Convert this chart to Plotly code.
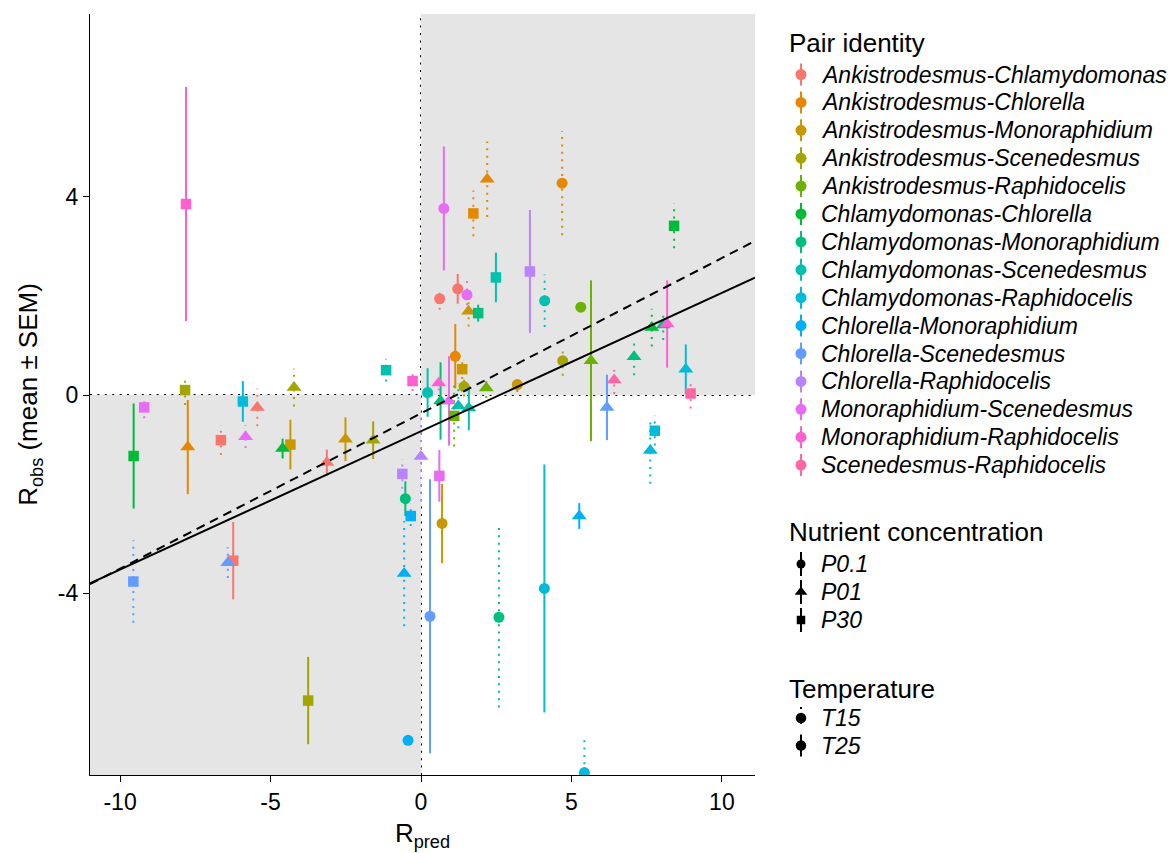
import plotly.graph_objects as go

# ---------------- data ----------------
pairs = [
    "Ankistrodesmus-Chlamydomonas", "Ankistrodesmus-Chlorella", "Ankistrodesmus-Monoraphidium",
    "Ankistrodesmus-Scenedesmus", "Ankistrodesmus-Raphidocelis", "Chlamydomonas-Chlorella",
    "Chlamydomonas-Monoraphidium", "Chlamydomonas-Scenedesmus", "Chlamydomonas-Raphidocelis",
    "Chlorella-Monoraphidium", "Chlorella-Scenedesmus", "Chlorella-Raphidocelis",
    "Monoraphidium-Scenedesmus", "Monoraphidium-Raphidocelis", "Scenedesmus-Raphidocelis",
]
pair_colors = [
    "#F8766D", "#E58700", "#C99800", "#A3A500", "#6BB100", "#00BA38", "#00BF7D", "#00C0AF",
    "#00BCD8", "#00B0F6", "#619CFF", "#B983FF", "#E76BF3", "#FD61D1", "#FF67A4",
]
nutrient_levels = ["P0.1", "P01", "P30"]
temp_levels = ["T15", "T25"]

obs_pair = [0, 0, 0, 0, 0, 0,
            1, 1, 1, 1, 1,
            2, 2, 2, 2, 2, 2,
            3, 3, 3, 3, 3, 3,
            4, 4, 4, 4,
            5, 5, 5, 5,
            6, 6, 6, 6, 6, 6,
            7, 7, 7, 7, 7, 7,
            8, 8, 8, 8, 8, 8,
            9, 9, 9, 9,
            10, 10, 10, 10,
            11, 11, 11,
            12, 12, 12, 12, 12, 12,
            13, 13, 13, 13,
            14, 14]
obs_nutrient = ["P0.1", "P0.1", "P30", "P30", "P01", "P01",
                "P01", "P0.1", "P30", "P0.1", "P01",
                "P01", "P0.1", "P30", "P0.1", "P30", "P01",
                "P0.1", "P0.1", "P30", "P01", "P01", "P30",
                "P0.1", "P01", "P01", "P30",
                "P30", "P30", "P01", "P01",
                "P30", "P01", "P01", "P01", "P0.1", "P0.1",
                "P30", "P0.1", "P30", "P0.1", "P01", "P01",
                "P01", "P30", "P01", "P30", "P0.1", "P0.1",
                "P30", "P01", "P0.1", "P01",
                "P01", "P0.1", "P30", "P01",
                "P30", "P01", "P30",
                "P0.1", "P0.1", "P01", "P30", "P30", "P01",
                "P30", "P01", "P30", "P01",
                "P30", "P01"]
obs_temp = ["T15", "T25", "T25", "T15", "T15", "T25",
            "T15", "T15", "T15", "T25", "T25",
            "T15", "T15", "T15", "T25", "T25", "T25",
            "T15", "T15", "T15", "T15", "T25", "T25",
            "T25", "T25", "T15", "T15",
            "T15", "T25", "T25", "T15",
            "T25", "T15", "T15", "T25", "T25", "T15",
            "T25", "T15", "T15", "T25", "T15", "T25",
            "T25", "T15", "T15", "T25", "T25", "T15",
            "T15", "T25", "T25", "T15",
            "T25", "T25", "T15", "T15",
            "T25", "T15", "T15",
            "T25", "T15", "T25", "T25", "T15", "T15",
            "T25", "T25", "T15", "T15",
            "T15", "T15"]
r_pred = [0.62, 1.22, -6.24, -6.65, -5.44, -3.13,
          2.20, 4.69, 1.74, 1.14, -7.75,
          1.58, 3.20, 1.37, 0.70, -4.34, -2.51,
          4.71, 1.43, -7.84, -4.22, -1.59, -3.75,
          5.31, 5.65, 2.17, 1.10,
          8.41, -9.55, -4.60, 7.67,
          1.90, 7.08, 8.05, 0.65, -0.52, 2.59,
          2.49, 4.11, -1.16, 0.22, 1.24, 1.59,
          8.80, 7.77, 7.62, -5.92, 4.10, 5.43,
          -0.34, 5.26, -0.43, -0.56,
          6.18, 0.30, -9.56, -6.42,
          3.62, 0.00, -0.62,
          0.76, 1.53, 0.93, 0.61, -9.20, -5.83,
          -7.81, 8.18, -0.28, 0.59,
          8.96, 6.42]
r_obs = [1.94, 2.14, -3.34, -0.91, -0.25, -1.36,
         4.35, 4.27, 3.66, 0.78, -1.05,
         1.69, 0.21, 0.52, -2.59, -1.00, -0.89,
         0.69, 0.17, 0.10, 0.15, -0.91, -6.16,
         1.77, 0.69, 0.14, -0.42,
         3.41, -1.23, -1.08, 1.36,
         1.65, 0.77, 1.41, -0.12, -2.09, -4.48,
         2.37, 1.90, 0.50, 0.05, -0.22, -0.26,
         0.52, -0.72, -1.12, -0.13, -3.90, -7.61,
         -2.44, -2.44, -6.96, -3.60,
         -0.25, -4.46, -3.76, -3.38,
         2.49, -1.24, -1.59,
         3.76, 2.02, -0.12, -1.63, -0.25, -0.84,
         3.85, 1.43, 0.28, 0.24,
         0.03, 0.30]
r_sem = [0.22, 0.30, 0.78, 0.30, 0.38, 0.26,
         0.76, 1.05, 0.46, 0.65, 0.95,
         0.31, 0.15, 0.20, 0.80, 0.50, 0.44,
         0.30, 0.20, 0.30, 0.38, 0.38, 0.88,
         0.05, 1.62, 0.20, 0.62,
         0.45, 1.06, 0.20, 0.38,
         0.17, 0.37, 0.30, 0.78, 0.35, 1.82,
         0.50, 0.53, 0.23, 0.49, 0.45, 0.45,
         0.50, 0.30, 0.67, 0.41, 2.50, 0.73,
         0.20, 0.26, 0.05, 1.06,
         0.66, 2.76, 0.83, 0.31,
         1.24, 0.90, 0.30,
         1.25, 0.36, 0.90, 0.52, 0.22, 0.23,
         2.36, 0.88, 0.20, 0.15,
         0.30, 0.28]

fit_obs_intercept, fit_obs_slope = -0.73, 0.279   # solid line
fit_ref_intercept, fit_ref_slope = -0.37, 0.313   # dashed line

x_tickvals = [-10, -5, 0, 5, 10]
y_tickvals = [-4, 0, 4]
x_range = [-11.0, 11.1]
y_range = [-7.66, 7.68]

# ---------------- styles ----------------
FONT = "Liberation Sans, Arial, sans-serif"
symbol_of = {"P0.1": "circle", "P01": "triangle-up", "P30": "square"}
size_of = {"P0.1": 11, "P01": 13, "P30": 10.5}
dash_of = {"T15": "2px,5.4px", "T25": "solid"}
n = len(r_pred)

fig = go.Figure()

# quadrant shading and reference lines
shapes = [
    dict(type="rect", xref="x", yref="y", x0=0, x1=100, y0=0, y1=100,
         fillcolor="#E5E5E5", line_width=0, layer="below"),
    dict(type="rect", xref="x", yref="y", x0=-100, x1=0, y0=-100, y1=0,
         fillcolor="#E5E5E5", line_width=0, layer="below"),
    dict(type="line", xref="x", yref="y domain", x0=0, x1=0, y0=0, y1=1,
         line=dict(color="black", width=2, dash="2px,5.4px"), layer="below"),
    dict(type="line", xref="x domain", yref="y", x0=0, x1=1, y0=0, y1=0,
         line=dict(color="black", width=2, dash="2px,5.4px"), layer="below"),
]

# error bars (mean ± SEM)
for pi, col in enumerate(pair_colors):
    for t in temp_levels:
        xs, ys = [], []
        for k in range(n):
            if obs_pair[k] == pi and obs_temp[k] == t:
                xs += [r_pred[k], r_pred[k], None]
                ys += [r_obs[k] - r_sem[k], r_obs[k] + r_sem[k], None]
        if xs:
            fig.add_trace(go.Scatter(x=xs, y=ys, mode="lines", xaxis="x", yaxis="y",
                                     line=dict(color=col, width=2, dash=dash_of[t]),
                                     hoverinfo="skip", showlegend=False))

# points
for pi, col in enumerate(pair_colors):
    idx = [k for k in range(n) if obs_pair[k] == pi]
    fig.add_trace(go.Scatter(
        x=[r_pred[k] for k in idx], y=[r_obs[k] for k in idx], mode="markers",
        xaxis="x", yaxis="y", name=pairs[pi],
        marker=dict(color=col, opacity=1, symbol=[symbol_of[obs_nutrient[k]] for k in idx],
                    size=[size_of[obs_nutrient[k]] for k in idx], line=dict(width=0)),
        showlegend=False))

# fitted lines
fig.add_trace(go.Scatter(x=x_range, y=[fit_obs_intercept + fit_obs_slope * v for v in x_range],
                         mode="lines", line=dict(color="black", width=2), showlegend=False,
                         hoverinfo="skip"))
fig.add_trace(go.Scatter(x=x_range, y=[fit_ref_intercept + fit_ref_slope * v for v in x_range],
                         mode="lines", line=dict(color="black", width=2, dash="9px,6px"),
                         showlegend=False, hoverinfo="skip"))

# ---------------- hand-drawn legend (pixel coordinates on x2/y2) ----------------
annotations = []
KEY_X, TEXT_X, TITLE_X = 801, 819, 787
pair_top, pair_pitch = 74.5, 27.9


def leg_text(x, y, txt, size, italic=False):
    annotations.append(dict(xref="x2", yref="y2", x=x, y=y, xanchor="left", yanchor="middle",
                            text=("<i>%s</i>" % txt) if italic else txt, showarrow=False,
                            font=dict(family=FONT, size=size, color="black")))


leg_text(TITLE_X, 43, "Pair identity", 26)
for pi, col in enumerate(pair_colors):
    yc = pair_top + pi * pair_pitch
    fig.add_trace(go.Scatter(x=[KEY_X, KEY_X], y=[yc - 11, yc + 11], mode="lines",
                             xaxis="x2", yaxis="y2", line=dict(color=col, width=2),
                             showlegend=False, hoverinfo="skip", cliponaxis=False))
    fig.add_trace(go.Scatter(x=[KEY_X], y=[yc], mode="markers", xaxis="x2", yaxis="y2",
                             marker=dict(color=col, size=11, symbol="circle", line=dict(width=0)),
                             showlegend=False, hoverinfo="skip", cliponaxis=False))
    leg_text(TEXT_X, yc, pairs[pi], 23, italic=True)

leg_text(TITLE_X, 532, "Nutrient concentration", 26)
nut_y = [564, 592, 620]
nut_key_size = {"P0.1": 9, "P01": 11, "P30": 8.5}
for lvl, yc in zip(nutrient_levels, nut_y):
    fig.add_trace(go.Scatter(x=[KEY_X, KEY_X], y=[yc - 12, yc + 12], mode="lines",
                             xaxis="x2", yaxis="y2", line=dict(color="black", width=2),
                             showlegend=False, hoverinfo="skip", cliponaxis=False))
    fig.add_trace(go.Scatter(x=[KEY_X], y=[yc], mode="markers", xaxis="x2", yaxis="y2",
                             marker=dict(color="black", size=nut_key_size[lvl],
                                         symbol=symbol_of[lvl], line=dict(width=0)),
                             showlegend=False, hoverinfo="skip", cliponaxis=False))
    leg_text(TEXT_X, yc, lvl, 23, italic=True)

leg_text(TITLE_X, 689, "Temperature", 26)
temp_y = [718, 745.5]
for lvl, yc in zip(temp_levels, temp_y):
    fig.add_trace(go.Scatter(x=[KEY_X, KEY_X], y=[yc - 11, yc + 11], mode="lines",
                             xaxis="x2", yaxis="y2",
                             line=dict(color="black", width=2, dash=dash_of[lvl]),
                             showlegend=False, hoverinfo="skip", cliponaxis=False))
    fig.add_trace(go.Scatter(x=[KEY_X], y=[yc], mode="markers", xaxis="x2", yaxis="y2",
                             marker=dict(color="black", size=10.5, symbol="circle", line=dict(width=0)),
                             showlegend=False, hoverinfo="skip", cliponaxis=False))
    leg_text(TEXT_X, yc, lvl, 23, italic=True)

# ---------------- layout ----------------
W, H = 1175, 853
ML, MR, MT, MB = 90, 5, 14, 78
plot_w = W - ML - MR
main_right = 755
fig.update_layout(
    width=W, height=H,
    margin=dict(l=ML, r=MR, t=MT, b=MB, autoexpand=False),
    paper_bgcolor="white", plot_bgcolor="white",
    font=dict(family=FONT, color="black"),
    showlegend=False,
    shapes=shapes,
    annotations=annotations,
    xaxis=dict(domain=[0, (main_right - ML) / plot_w], range=x_range, tickvals=x_tickvals,
               ticktext=[str(v) for v in x_tickvals],
               showline=True, linecolor="black", linewidth=1.2, ticks="outside", ticklen=6,
               tickcolor="black", tickwidth=1.2, showgrid=False, zeroline=False,
               tickfont=dict(family=FONT, size=23, color="black"),
               title=dict(text="R<sub>pred</sub>", font=dict(family=FONT, size=26, color="black"),
                          standoff=10),
               automargin=False, anchor="y"),
    yaxis=dict(domain=[0, 1], range=y_range, tickvals=y_tickvals,
               ticktext=[str(v) for v in y_tickvals],
               showline=True, linecolor="black", linewidth=1.2, ticks="outside", ticklen=6,
               tickcolor="black", tickwidth=1.2, showgrid=False, zeroline=False,
               tickfont=dict(family=FONT, size=23, color="black"),
               title=dict(text="R<sub>obs</sub> (mean ± SEM)",
                          font=dict(family=FONT, size=26, color="black"), standoff=12),
               automargin=False, anchor="x"),
    xaxis2=dict(domain=[(770 - ML) / plot_w, 1.0], range=[770, W - MR], visible=False,
                anchor="y2", fixedrange=True),
    yaxis2=dict(domain=[0, 1], range=[H - MB, MT], visible=False, anchor="x2", fixedrange=True),
)

fig.write_html("out.html")
